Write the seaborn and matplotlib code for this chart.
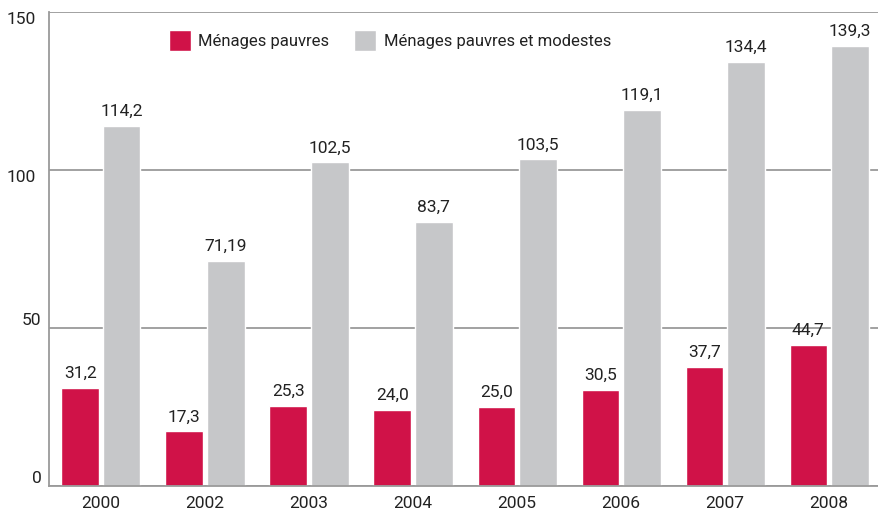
import pandas as pd
import matplotlib.pyplot as plt
import seaborn as sns

# Données
annees = ["2000", "2002", "2003", "2004", "2005", "2006", "2007", "2008"]
pauvres = [31.2, 17.3, 25.3, 24.0, 25.0, 30.5, 37.7, 44.7]
pauvres_modestes = [114.2, 71.19, 102.5, 83.7, 103.5, 119.1, 134.4, 139.3]
series = ["Ménages pauvres", "Ménages pauvres et modestes"]
couleurs = ["#D01248", "#C6C7C9"]
graduations = [0, 50, 100, 150]

df = pd.DataFrame({
    "annee": annees * 2,
    "valeur": pauvres + pauvres_modestes,
    "serie": [series[0]] * len(annees) + [series[1]] * len(annees),
})

sns.set_style("white")
plt.rcParams['font.family'] = ['Roboto', 'DejaVu Sans']
taille = 12.5
gris_axe = "#9a9a9a"
texte = "#222222"

fig = plt.figure(figsize=(8.79, 5.12), dpi=100)
ax = fig.add_axes([0.0557, 0.0508, 0.9443, 0.9248])

sns.barplot(data=df, x="annee", y="valeur", hue="serie", palette=couleurs,
            width=0.8, gap=0.1, saturation=1, ax=ax, zorder=3)


def fmt(v):
    s = f"{v:g}" if v != int(v) else f"{v:.1f}"
    return s.replace(".", ",")


# Étiquettes des valeurs
for cont in ax.containers:
    ax.bar_label(cont, labels=[fmt(v) for v in cont.datavalues],
                 padding=5, fontsize=taille, color=texte)

ax.set_ylim(0, 150)
ax.set_xlim(-0.5, 7.48)
ax.set_yticks(graduations)
ax.set_yticklabels([])
ax.yaxis.grid(True, color=gris_axe, linewidth=1.3, zorder=0)
ax.set_xlabel("")
ax.set_ylabel("")

# libellés de l'axe y (haut : sous la ligne, bas : au-dessus)
for g in graduations:
    if g >= 100:
        ax.text(-0.016, g, str(g), transform=ax.get_yaxis_transform(),
                ha="right", va="top", fontsize=taille, color=texte)
    else:
        ax.text(-0.009, g, str(g), transform=ax.get_yaxis_transform(),
                ha="right", va="bottom", fontsize=taille, color=texte)

for s in ["top", "right"]:
    ax.spines[s].set_visible(False)
for s in ["left", "bottom"]:
    ax.spines[s].set_color(gris_axe)
    ax.spines[s].set_linewidth(1.3)
    ax.spines[s].set_zorder(4)

ax.tick_params(axis="y", length=0)
ax.tick_params(axis="x", which="major", length=0, pad=7.5, labelsize=taille, labelcolor=texte)

# petits traits entre les années
ax.set_xticks([i + 0.5 for i in range(len(annees) - 1)], minor=True)
ax.tick_params(axis="x", which="minor", direction="in", length=12, width=1.2, color=gris_axe)

leg = ax.legend(loc="upper left", bbox_to_anchor=(0.126, 0.995), ncol=2, frameon=False,
                fontsize=12, handlelength=1.32, handleheight=1.6, columnspacing=1.5,
                handletextpad=0.45)
for t in leg.get_texts():
    t.set_color(texte)

fig.savefig("out.png", dpi=100)
